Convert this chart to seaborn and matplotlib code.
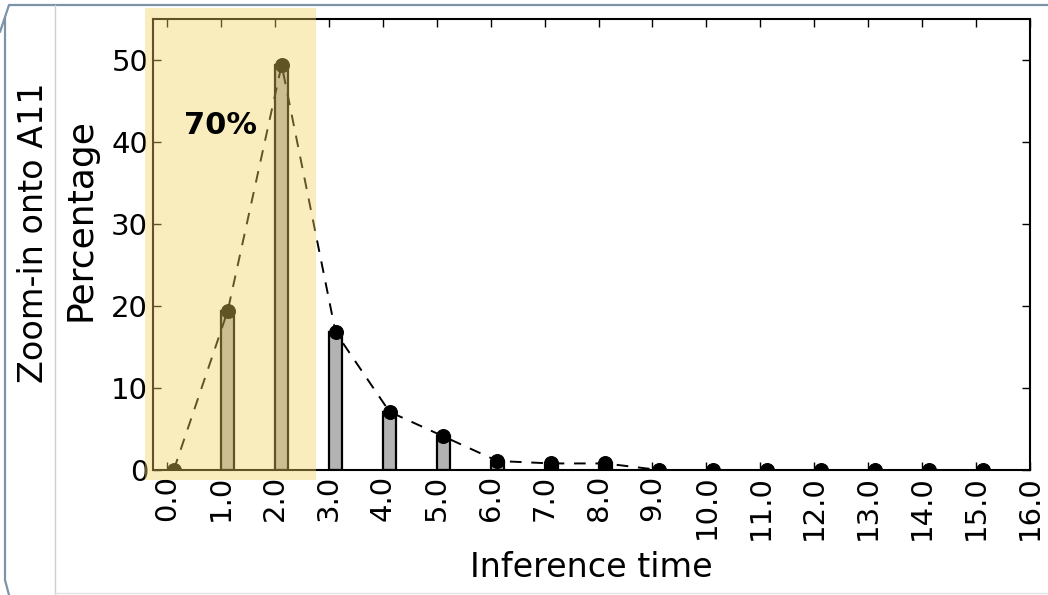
import numpy as np
import matplotlib
matplotlib.use("Agg")
import matplotlib.pyplot as plt
import seaborn as sns
from matplotlib.patches import Rectangle
from matplotlib.lines import Line2D

# inference time bins and share of samples (%)
times = np.arange(0, 16)
percent = [0.0, 19.4, 49.4, 16.8, 7.1, 4.1, 1.1, 0.8, 0.8, 0.0, 0.0, 0.0, 0.0, 0.0, 0.0, 0.0]
tick_vals = np.arange(0, 17)
tick_labels = ["%.1f" % t for t in tick_vals]
bar_w = 0.25

sns.set_style("ticks")
plt.rcParams["font.family"] = ["DejaVu Sans"]
plt.rcParams["xtick.direction"] = "in"
plt.rcParams["ytick.direction"] = "in"
plt.rcParams["xtick.top"] = True
plt.rcParams["ytick.right"] = True
for k in ["text.color", "axes.labelcolor", "xtick.color", "ytick.color"]:
    plt.rcParams[k] = "black"

fig = plt.figure(figsize=(10.48, 5.95), dpi=100)
ax = fig.add_axes([153/1048, 1-470/595, 877/1048, 451/595])

# old style: bars start at the tick, points sit on the bar centres
xc = times + bar_w/2
sns.barplot(x=xc, y=percent, native_scale=True, width=bar_w, color="#b3b3b3",
            saturation=1, edgecolor="black", linewidth=1.6, ax=ax)
sns.lineplot(x=xc, y=percent, color="black", lw=1.4, marker="o",
             markersize=10, markeredgecolor="black", ax=ax)
ax.lines[-1].set_dashes([6, 5])

ax.set_xlim(-0.26, 16)
ax.set_ylim(0, 55)
ax.set_xticks(tick_vals)
ax.set_xticklabels(tick_labels, rotation=90)
ax.set_yticks([0, 10, 20, 30, 40, 50])
ax.tick_params(labelsize=21, length=6, width=1, color="black")
for s in ax.spines.values():
    s.set_linewidth(1.5)
    s.set_color("black")
ax.set_xlabel("Inference time", fontsize=24, labelpad=8)
ax.set_ylabel("Percentage", fontsize=26)
ax.yaxis.set_label_coords(-0.063, 0.556)

fig.text(34/1048, 1-233/595, "Zoom-in onto A11", rotation=90, fontsize=24,
         ha="center", va="center")

# yellow highlight over the first bins
fig.add_artist(Rectangle((145/1048, 1-480/595), 171/1048, 472/595,
                         transform=fig.transFigure, facecolor="#f2d05c",
                         alpha=0.4, edgecolor="none", zorder=1))
fig.text(1.0, 41, "70%", transform=ax.transData, fontsize=22,
         fontweight="bold", ha="center", va="baseline", zorder=2)

# slide frame
W, H = 1048, 595
def fline(xs, ys, c, lw):
    fig.add_artist(Line2D([x/W for x in xs], [1-y/H for y in ys],
                          transform=fig.transFigure, color=c, lw=lw, zorder=3))
fline([0, 9, 1048], [32, 5, 5], "#7d93a8", 1.6)
fline([5, 5, 9], [18, 580, 595], "#7d93a8", 1.6)
fline([55, 55], [5, 595], "#cfcfcf", 1.0)
fline([55, 1048], [593, 593], "#e2e2e2", 1.0)

fig.savefig("out.png", dpi=100)
